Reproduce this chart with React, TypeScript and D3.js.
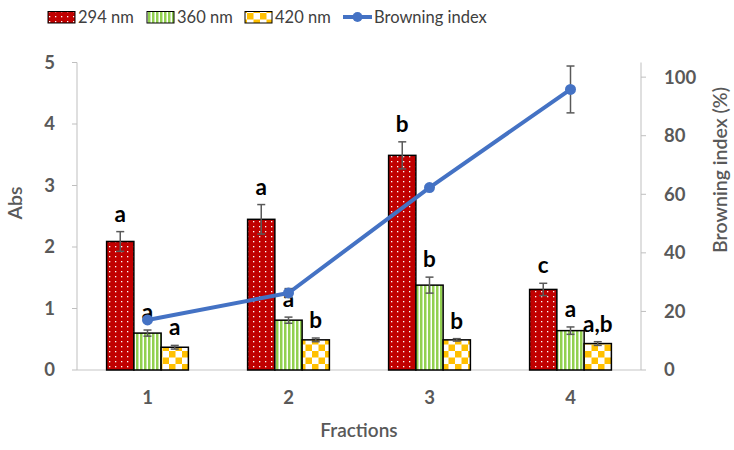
import React from 'react';
import * as d3 from 'd3';

const categories = ['1', '2', '3', '4'];
const abs294 = [2.09, 2.45, 3.49, 1.31];
const err294 = [0.16, 0.24, 0.22, 0.1];
const abs360 = [0.6, 0.81, 1.38, 0.64];
const err360 = [0.05, 0.05, 0.13, 0.06];
const abs420 = [0.37, 0.49, 0.49, 0.43];
const err420 = [0.03, 0.03, 0.02, 0.03];
const browning = [17.1, 26.3, 62.3, 95.8];
const browningErr = [0.6, 1.5, 0.6, 8];
const letters294 = ['a', 'a', 'b', 'c'];
const letters360 = ['a', 'a', 'b', 'a'];
const letters420 = ['a', 'b', 'b', 'a,b'];
const leftTicks = [0, 1, 2, 3, 4, 5];
const rightTicks = [0, 20, 40, 60, 80, 100];
const seriesNames = ['294 nm', '360 nm', '420 nm'];

const W = 734, H = 450;
const L = 77, R = 641, T = 62.5, B = 370;
const FONT = 'Lato, "Open Sans", sans-serif';
const GRAY = '#595959';
const BLUE = '#4472C4';

export default function App() {
  const x = d3.scaleBand<string>().domain(categories).range([L, R]).padding(0);
  const yL = d3.scaleLinear().domain([0, 5]).range([B, T]);
  const yR = d3.scaleLinear().domain([0, 105]).range([B, T]);
  const groupW = x.bandwidth() * 0.58;
  const sub = d3.scaleBand<number>().domain([0, 1, 2]).range([0, groupW]).padding(0);
  const series = [
    { vals: abs294, errs: err294, letters: letters294, fill: 'url(#pRed)' },
    { vals: abs360, errs: err360, letters: letters360, fill: 'url(#pGreen)' },
    { vals: abs420, errs: err420, letters: letters420, fill: 'url(#pYellow)' },
  ];
  const cx = (c: string) => (x(c) as number) + x.bandwidth() / 2;
  const gx0 = (c: string) => cx(c) - groupW / 2;
  const line = d3.line<number>().x((_, i) => cx(categories[i])).y((d) => yR(d));
  const legendFills = ['url(#pRed)', 'url(#pGreen)', 'url(#pYellow)'];
  const legendX = [48, 147, 245];

  return (
    <svg width={W} height={H} style={{ position: 'absolute', left: 0, top: 0, background: '#fff' }} fontFamily={FONT}>
      <defs>
        <pattern id="pRed" width="6" height="5" patternUnits="userSpaceOnUse">
          <rect width="6" height="5" fill="#C00000" />
          <rect x="1" y="1" width="1.3" height="1.3" fill="#fff" />
        </pattern>
        <pattern id="pGreen" width="4" height="4" patternUnits="userSpaceOnUse">
          <rect width="4" height="4" fill="#92D050" />
          <rect x="2.5" y="0" width="1.5" height="4" fill="#fff" />
        </pattern>
        <pattern id="pYellow" width="13" height="13" patternUnits="userSpaceOnUse">
          <rect width="13" height="13" fill="#fff" />
          <rect x="0" y="0" width="6.5" height="6.5" fill="#FFC000" />
          <rect x="6.5" y="6.5" width="6.5" height="6.5" fill="#FFC000" />
        </pattern>
      </defs>

      {/* axes */}
      <line x1={L} x2={R} y1={B} y2={B} stroke="#D9D9D9" strokeWidth={1.5} />
      <line x1={L} x2={L} y1={T} y2={B} stroke="#BFBFBF" strokeWidth={1} />
      <line x1={R} x2={R} y1={T} y2={B} stroke="#BFBFBF" strokeWidth={1} />
      {leftTicks.map((t) => (
        <g key={'l' + t}>
          <line x1={L - 5} x2={L} y1={yL(t)} y2={yL(t)} stroke="#BFBFBF" />
          <text x={L - 22} y={yL(t)} dy="0.35em" textAnchor="end" fontSize={18.5} fontWeight={700} fill={GRAY}>{t}</text>
        </g>
      ))}
      {rightTicks.map((t) => (
        <g key={'r' + t}>
          <line x1={R} x2={R + 5} y1={yR(t)} y2={yR(t)} stroke="#BFBFBF" />
          <text x={R + 23} y={yR(t)} dy="0.35em" textAnchor="start" fontSize={18.5} fontWeight={700} fill={GRAY}>{t}</text>
        </g>
      ))}
      {categories.map((c) => (
        <text key={'c' + c} x={cx(c)} y={398} dy="0.35em" textAnchor="middle" fontSize={18.5} fontWeight={700} fill={GRAY}>{c}</text>
      ))}
      <text x={(L + R) / 2} y={430} dy="0.35em" textAnchor="middle" fontSize={19} fontWeight={600} fill={GRAY}>Fractions</text>
      <text transform={`translate(15,203) rotate(-90)`} dy="0.35em" textAnchor="middle" fontSize={19.5} fontWeight={600} fill={GRAY}>Abs</text>
      <text transform={`translate(720,170) rotate(-90)`} dy="0.35em" textAnchor="middle" fontSize={19.5} fontWeight={600} fill={GRAY}>Browning index (%)</text>

      {/* bars */}
      {series.map((s, si) =>
        categories.map((c, ci) => {
          const bx = gx0(c) + (sub(si) as number);
          const bw = sub.bandwidth();
          const top = yL(s.vals[ci]);
          const eTop = yL(s.vals[ci] + s.errs[ci]);
          const eBot = yL(s.vals[ci] - s.errs[ci]);
          const mx = bx + bw / 2;
          return (
            <g key={`b${si}-${ci}`}>
              <rect x={bx} y={top} width={bw} height={B - top} fill={s.fill} stroke="#000" strokeWidth={1.5} />
              <line x1={mx} x2={mx} y1={eTop} y2={eBot} stroke={GRAY} strokeWidth={1.5} />
              <line x1={mx - 4} x2={mx + 4} y1={eTop} y2={eTop} stroke={GRAY} strokeWidth={1.5} />
              <line x1={mx - 4} x2={mx + 4} y1={eBot} y2={eBot} stroke={GRAY} strokeWidth={1.5} />
              <text x={mx} y={eTop - 10} textAnchor="middle" fontSize={22.5} fontWeight={700} fill="#000">{s.letters[ci]}</text>
            </g>
          );
        })
      )}

      {/* line */}
      <path d={line(browning) || ''} fill="none" stroke={BLUE} strokeWidth={4} strokeLinejoin="round" />
      {browning.map((v, i) => {
        const px = cx(categories[i]);
        const e1 = yR(v + browningErr[i]);
        const e2 = yR(v - browningErr[i]);
        return (
          <g key={'p' + i}>
            <line x1={px} x2={px} y1={e1} y2={e2} stroke={GRAY} strokeWidth={1.5} />
            <line x1={px - 4} x2={px + 4} y1={e1} y2={e1} stroke={GRAY} strokeWidth={1.5} />
            <line x1={px - 4} x2={px + 4} y1={e2} y2={e2} stroke={GRAY} strokeWidth={1.5} />
            <circle cx={px} cy={yR(v)} r={5.5} fill={BLUE} />
          </g>
        );
      })}

      {/* legend */}
      {seriesNames.map((n, i) => (
        <g key={'lg' + i}>
          <rect x={legendX[i]} y={11.5} width={27} height={11.5} fill={legendFills[i]} stroke="#000" strokeWidth={1} />
          <text x={legendX[i] + 30} y={17} dy="0.35em" fontSize={16.5} fill="#404040">{n}</text>
        </g>
      ))}
      <line x1={343} x2={372} y1={17} y2={17} stroke={BLUE} strokeWidth={4} />
      <circle cx={357.5} cy={17} r={5} fill={BLUE} />
      <text x={374} y={17} dy="0.35em" fontSize={16.5} fill="#404040">Browning index</text>
    </svg>
  );
}
